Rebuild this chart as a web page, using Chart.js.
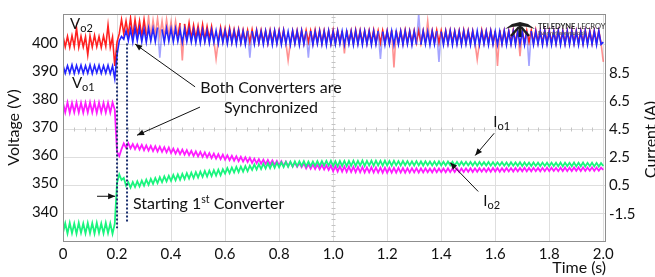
<!DOCTYPE html>
<html>
<head>
<meta charset="utf-8">
<script src="https://cdn.jsdelivr.net/npm/chart.js@4/dist/chart.umd.min.js"></script>
<style>
html,body{margin:0;padding:0;background:#fff;}
canvas{display:block;}
</style>
</head>
<body>
<canvas id="c" width="655" height="277"></canvas>
<script>
// ---- data ----
const SAMPLE_PERIOD = 1 / 120; // s between samples
const xTicks = [0, 0.2, 0.4, 0.6, 0.8, 1.0, 1.2, 1.4, 1.6, 1.8, 2.0];
const voltageTicks = [340, 350, 360, 370, 380, 390, 400];
const currentTicks = [-1.5, 0.5, 2.5, 4.5, 6.5, 8.5];

// Vo2 (red), V
const vo2 = [
403.2,399.3,403.0,399.1,403.3,399.4,406.0,399.2,403.1,399.3,402.9,396.5,
403.2,399.2,403.4,399.4,403.0,399.1,403.2,399.5,407.0,399.2,402.8,392.5,
401.0,404.0,409.0,404.0,408.5,403.5,409.5,403.0,409.0,403.5,408.5,403.0,
409.0,403.2,410.0,402.8,408.8,403.5,409.4,403.0,408.5,402.6,409.0,403.2,
408.2,402.8,408.5,403.0,407.8,394.5,407.5,402.7,407.8,402.2,407.0,402.4,
406.8,402.0,407.2,401.8,406.5,402.2,406.6,401.6,395.0,401.5,406.2,401.5,
405.8,401.4,406.0,401.2,405.5,401.5,405.6,401.0,405.3,401.2,405.2,400.9,
405.4,401.0,405.3,400.8,405.2,401.2,405.0,400.6,405.2,401.0,405.1,400.8,
405.2,400.9,405.3,400.7,394.5,400.8,405.0,400.8,405.1,401.0,405.2,400.7,
405.1,401.0,405.0,400.6,405.3,400.9,405.2,400.7,405.1,401.0,405.0,400.6,
405.2,400.8,405.1,401.0,405.0,397.0,405.2,400.9,405.0,400.6,405.3,400.8,
405.2,400.9,405.0,400.7,405.1,401.0,405.3,400.8,405.0,400.6,405.1,400.9,
405.0,400.7,405.2,392.0,405.1,400.8,405.0,400.6,405.3,400.9,405.0,400.7,
405.1,400.8,405.2,400.6,405.0,400.9,408.5,400.7,405.1,401.0,405.2,400.6,
405.0,400.9,405.1,400.7,405.2,401.0,405.0,400.8,405.1,400.6,405.3,400.9,
405.1,400.7,405.0,400.9,394.8,400.8,405.2,400.8,405.0,401.0,405.1,400.7,
405.0,392.5,405.2,400.6,405.1,400.9,405.0,400.7,405.3,401.0,405.1,396.0,
405.2,400.6,405.0,400.9,405.1,400.7,405.3,400.9,405.0,400.6,405.2,400.8,
405.1,401.0,405.0,400.7,405.2,400.8,405.1,400.6,405.0,400.9,405.2,400.7,
405.0,400.8,405.1,400.6,405.2,400.9,405.0,400.7,405.1,400.8,405.0,400.6,
394.0];

// Vo1 (blue), V
const vo1 = [
392.8,389.9,392.6,390.0,392.9,389.8,392.7,390.1,392.8,389.9,392.6,390.0,
392.9,389.8,392.7,390.1,392.8,389.9,392.6,390.0,392.8,389.8,392.5,388.0,
396.5,401.5,403.0,402.0,405.0,401.5,405.5,401.0,406.0,401.5,405.8,401.2,
405.6,401.0,406.0,401.4,405.8,401.2,406.2,395.5,405.5,401.0,405.9,401.3,
405.7,401.1,405.8,401.3,405.4,400.9,405.6,401.2,405.5,401.0,405.3,400.8,
405.2,400.7,405.4,401.0,405.0,400.6,405.3,400.9,405.1,400.5,405.2,400.8,
405.0,400.4,405.2,400.7,404.9,400.3,405.1,400.6,404.8,400.2,405.0,395.5,
404.9,400.3,405.0,400.6,404.7,400.2,404.9,400.5,404.8,400.1,405.0,400.4,
404.8,400.2,405.1,400.5,404.7,400.1,404.9,400.4,404.8,400.0,405.0,400.3,
404.8,395.5,404.9,400.1,404.7,400.4,404.9,400.2,404.8,400.0,405.0,400.3,
404.7,400.2,404.9,400.4,404.8,400.1,404.8,400.3,404.7,400.0,404.9,400.2,
404.8,400.1,404.9,400.3,404.7,400.0,404.8,400.2,404.9,395.0,404.7,400.1,
404.8,400.3,404.9,400.0,404.7,400.2,404.8,400.1,404.9,400.3,404.7,400.0,
404.8,400.2,411.0,400.1,404.9,400.3,404.7,400.0,404.8,400.2,404.9,394.0,
404.7,400.1,404.8,400.3,404.9,400.0,404.7,400.2,404.8,400.1,404.9,400.3,
404.7,400.0,404.8,400.2,404.9,400.1,404.7,400.3,404.8,400.0,404.9,400.2,
404.7,400.1,404.8,400.3,404.9,400.0,404.7,400.2,404.8,400.1,404.9,400.3,
404.7,400.0,404.8,392.5,404.9,400.1,404.7,400.3,404.8,400.0,404.9,400.2,
404.7,400.1,404.8,400.3,404.9,400.0,404.7,400.2,404.8,400.1,404.9,400.3,
404.7,400.0,404.8,400.2,404.9,400.1,404.7,400.3,404.8,400.0,404.9,400.2,
401.0];

// Io2 (magenta), A
const io2 = [
6.40,5.70,6.42,5.68,6.38,5.72,6.41,5.70,6.40,5.69,6.39,5.71,
6.42,5.70,6.40,5.68,6.41,5.72,6.38,5.70,6.40,5.69,6.41,5.90,
2.90,2.60,3.10,3.50,3.20,3.52,3.15,3.46,3.10,3.43,3.07,3.40,
3.02,3.36,2.99,3.33,2.96,3.30,2.93,3.27,2.90,3.24,2.87,3.21,
2.82,3.14,2.78,3.10,2.74,3.06,2.70,3.02,2.66,2.98,2.62,2.94,
2.58,2.90,2.54,2.86,2.50,2.82,2.46,2.78,2.42,2.74,2.38,2.70,
2.34,2.66,2.31,2.62,2.27,2.59,2.24,2.55,2.21,2.52,2.18,2.48,
2.12,2.42,2.09,2.38,2.06,2.35,2.03,2.32,2.00,2.29,1.97,2.26,
1.93,2.23,1.91,2.20,1.88,2.17,1.86,2.14,1.83,2.11,1.81,2.08,
1.72,2.04,1.70,2.01,1.68,1.99,1.66,1.97,1.64,1.95,1.62,1.93,
1.52,1.90,1.50,1.88,1.49,1.86,1.48,1.85,1.47,1.84,1.46,1.83,
1.45,1.82,1.44,1.80,1.44,1.80,1.43,1.79,1.43,1.78,1.42,1.78,
1.42,1.77,1.43,1.76,1.42,1.76,1.43,1.75,1.42,1.74,1.43,1.74,
1.44,1.74,1.43,1.73,1.44,1.73,1.45,1.72,1.44,1.73,1.45,1.72,
1.46,1.72,1.45,1.73,1.46,1.72,1.47,1.73,1.46,1.72,1.47,1.73,
1.48,1.74,1.47,1.73,1.48,1.74,1.49,1.73,1.48,1.74,1.49,1.75,
1.50,1.75,1.49,1.74,1.50,1.76,1.51,1.75,1.50,1.76,1.51,1.76,
1.52,1.77,1.51,1.76,1.52,1.77,1.53,1.76,1.52,1.77,1.53,1.78,
1.53,1.78,1.54,1.77,1.53,1.78,1.54,1.79,1.53,1.78,1.54,1.79,
1.55,1.79,1.54,1.80,1.55,1.79,1.56,1.80,1.55,1.79,1.56,1.78,
1.62];

// Io1 (green), A
const io1 = [
-2.85,-2.18,-2.90,-2.14,-2.88,-2.20,-2.92,-2.15,-2.86,-2.19,-2.90,-2.16,
-2.89,-2.17,-2.91,-2.14,-2.87,-2.20,-2.90,-2.15,-2.88,-2.18,-2.92,-2.20,
0.70,1.30,0.90,1.05,0.50,0.75,0.36,0.76,0.40,0.80,0.44,0.86,
0.50,0.92,0.56,0.98,0.62,1.04,0.68,1.10,0.74,1.16,0.80,1.20,
0.84,1.26,0.88,1.30,0.92,1.34,0.96,1.38,1.00,1.42,1.04,1.46,
1.08,1.50,1.12,1.54,1.15,1.57,1.18,1.60,1.21,1.63,1.24,1.66,
1.35,1.75,1.39,1.79,1.43,1.83,1.46,1.86,1.49,1.89,1.52,1.92,
1.62,2.00,1.65,2.03,1.68,2.06,1.71,2.09,1.74,2.11,1.76,2.13,
1.80,2.16,1.82,2.18,1.84,2.20,1.86,2.22,1.88,2.23,1.90,2.24,
1.87,2.21,1.88,2.22,1.90,2.24,1.91,2.25,1.92,2.26,1.93,2.27,
1.88,2.24,1.87,2.25,1.90,2.26,1.89,2.25,1.91,2.27,1.90,2.26,
1.92,2.28,1.90,2.26,1.93,2.27,1.91,2.28,1.94,2.26,1.92,2.27,
1.93,2.25,1.92,2.26,1.94,2.24,1.93,2.25,1.95,2.24,1.94,2.23,
1.93,2.24,1.94,2.22,1.93,2.23,1.95,2.22,1.94,2.21,1.93,2.22,
1.94,2.20,1.93,2.21,1.95,2.20,1.94,2.19,1.93,2.20,1.95,2.19,
1.94,2.18,1.93,2.19,1.92,2.18,1.94,2.17,1.93,2.18,1.92,2.17,
1.91,2.16,1.93,2.17,1.92,2.15,1.90,2.16,1.92,2.15,1.91,2.16,
1.90,2.15,1.91,2.14,1.89,2.15,1.90,2.13,1.89,2.14,1.90,2.13,
1.88,2.14,1.89,2.13,1.88,2.14,1.87,2.13,1.89,2.12,1.88,2.14,
1.87,2.13,1.88,2.14,1.86,2.12,1.88,2.13,1.87,2.12,1.86,2.10,
1.90];

// dotted timing markers (start of converter 1, synchronization)
const markerTimes = [0.200, 0.237];
const markerTop = [398.0, 400.5];
const markerBottom = [334.8, 336.5];

// ---- build library tables ----
const toPoints = arr => arr.map((v, i) => ({x: i * SAMPLE_PERIOD, y: v}));
const FONT = 'Lato';
const TXT = '#111';

// glitches after synchronization are drawn fainter (scope persistence look)
const isGlitch = p => p.parsed.x > 0.3 && (p.parsed.y < 398.5 || p.parsed.y > 407.8);
const faint = col => c => (isGlitch(c.p0) || isGlitch(c.p1)) ? col : undefined;

const markerSets = markerTimes.map((t, k) => ({
  data: [{x: t, y: markerTop[k]}, {x: t, y: markerBottom[k]}],
  yAxisID: 'y', borderColor: '#1b2f6e', borderWidth: 2, borderDash: [2, 2]
}));

function arrow(ctx, x1, y1, x2, y2) {
  ctx.beginPath(); ctx.moveTo(x1, y1); ctx.lineTo(x2, y2); ctx.stroke();
  const ang = Math.atan2(y2 - y1, x2 - x1), L = 7, W = 3;
  ctx.beginPath();
  ctx.moveTo(x2, y2);
  ctx.lineTo(x2 - L * Math.cos(ang) + W * Math.sin(ang), y2 - L * Math.sin(ang) - W * Math.cos(ang));
  ctx.lineTo(x2 - L * Math.cos(ang) - W * Math.sin(ang), y2 - L * Math.sin(ang) + W * Math.cos(ang));
  ctx.closePath(); ctx.fill();
}
function rich(ctx, parts, x, y, align) {
  let w = 0;
  parts.forEach(p => { ctx.font = (p[3] || '') + ' ' + p[1] + 'px ' + FONT; w += ctx.measureText(p[0]).width; });
  let cx = align === 'center' ? x - w / 2 : x;
  parts.forEach(p => {
    ctx.font = (p[3] || '') + ' ' + p[1] + 'px ' + FONT;
    ctx.fillText(p[0], cx, y + (p[2] || 0));
    cx += ctx.measureText(p[0]).width;
  });
}

const notes = [
  {parts: [['V', 15], ['o2', 11, 3]], t: 0.026, v: 405.5},
  {parts: [['V', 15], ['o1', 11, 3]], t: 0.033, v: 384.8},
  {parts: [['Both Converters are', 16]], t: 0.77, v: 382.9, align: 'center'},
  {parts: [['Synchronized', 16]], t: 0.77, v: 375.7, align: 'center'},
  {parts: [['Starting 1', 16], ['st', 10.5, -6], [' Converter', 16]], t: 0.259, v: 341.7},
  {parts: [['I', 15], ['o1', 11, 3]], t: 1.593, v: 371.0},
  {parts: [['I', 15], ['o2', 11, 3]], t: 1.556, v: 342.7}
];
const arrows = [
  [0.489, 385.1, 0.267, 400.3],
  [0.507, 377.9, 0.274, 367.9],
  [0.126, 346.2, 0.193, 346.2],
  [1.596, 368.6, 1.526, 360.7],
  [1.537, 347.9, 1.433, 358.2]
];

const decor = {
  id: 'decor',
  beforeDatasetsDraw(chart) {
    const {ctx, chartArea: a, scales: {x, y}} = chart;
    ctx.save();
    // graticule minor ticks on centre lines
    ctx.strokeStyle = '#c4c4c4'; ctx.lineWidth = 1;
    const yc = Math.round(y.getPixelForValue(370)) + 0.5;
    const xc = Math.round(x.getPixelForValue(1.0)) + 0.5;
    ctx.beginPath();
    for (let t = 0.04; t < 2.0; t += 0.04) {
      const px = Math.round(x.getPixelForValue(t)) + 0.5;
      ctx.moveTo(px, yc - 2); ctx.lineTo(px, yc + 2);
    }
    for (let v = 332; v < 411; v += 2) {
      const py = Math.round(y.getPixelForValue(v)) + 0.5;
      ctx.moveTo(xc - 2, py); ctx.lineTo(xc + 2, py);
    }
    ctx.stroke();
    ctx.restore();
  },
  afterDatasetsDraw(chart) {
    const {ctx, chartArea: a, scales: {x, y}} = chart;
    ctx.save();
    // plot frame
    ctx.strokeStyle = '#8f8f8f'; ctx.lineWidth = 1;
    ctx.strokeRect(Math.round(a.left) + 0.5, Math.round(a.top) + 0.5, Math.round(a.width) - 1, Math.round(a.height));
    // logo
    const lx = a.right, ly = a.top + 1;
    ctx.fillStyle = '#1e1e1e'; ctx.strokeStyle = '#1e1e1e';
    ctx.beginPath();
    ctx.moveTo(lx - 101, ly + 14); ctx.lineTo(lx - 94, ly + 9); ctx.lineTo(lx - 86, ly + 7);
    ctx.lineTo(lx - 78, ly + 9); ctx.lineTo(lx - 71, ly + 14); ctx.lineTo(lx - 78, ly + 12);
    ctx.lineTo(lx - 86, ly + 11); ctx.lineTo(lx - 94, ly + 12); ctx.closePath(); ctx.fill();
    ctx.fillRect(lx - 87.5, ly + 10, 3, 12);
    ctx.lineWidth = 2.5;
    ctx.beginPath(); ctx.moveTo(lx - 87, ly + 12); ctx.lineTo(lx - 95, ly + 21);
    ctx.moveTo(lx - 85, ly + 12); ctx.lineTo(lx - 77, ly + 21); ctx.stroke();
    ctx.textBaseline = 'alphabetic'; ctx.textAlign = 'left';
    rich(ctx, [['TELEDYNE', 7.5, 0, 'bold'], [' LECROY', 7.5, 0, '']], lx - 68, ly + 14);
    ctx.fillStyle = '#555';
    rich(ctx, [['Everywhere', 5.5], ['you', 5.5, 0, 'bold'], ['look', 5.5]], lx - 68, ly + 20);
    // annotations
    ctx.fillStyle = TXT; ctx.strokeStyle = '#111'; ctx.lineWidth = 1;
    notes.forEach(n => rich(ctx, n.parts, x.getPixelForValue(n.t), y.getPixelForValue(n.v), n.align));
    arrows.forEach(r => arrow(ctx, x.getPixelForValue(r[0]), y.getPixelForValue(r[1]), x.getPixelForValue(r[2]), y.getPixelForValue(r[3])));
    // right axis title (reads bottom to top)
    ctx.font = '16px ' + FONT; ctx.textAlign = 'center'; ctx.textBaseline = 'middle';
    ctx.translate(651, (a.top + a.bottom) / 2 + 12);
    ctx.rotate(-Math.PI / 2);
    ctx.fillText('Current (A)', 0, 0);
    ctx.restore();
  }
};

new Chart(document.getElementById('c'), {
  type: 'line',
  data: {
    datasets: [
      ...markerSets,
      {label: 'Vo1', data: toPoints(vo1), yAxisID: 'y', borderColor: '#2424ff', borderWidth: 1.6,
        segment: {borderColor: faint('rgba(90,90,255,0.55)')}},
      {label: 'Vo2', data: toPoints(vo2), yAxisID: 'y', borderColor: '#ff2020', borderWidth: 1.6,
        segment: {borderColor: faint('rgba(255,70,70,0.6)')}},
      {label: 'Io1', data: toPoints(io1), yAxisID: 'y1', borderColor: '#19f57d', borderWidth: 1.8},
      {label: 'Io2', data: toPoints(io2), yAxisID: 'y1', borderColor: '#ff1cff', borderWidth: 1.8}
    ]
  },
  options: {
    responsive: false, animation: false,
    layout: {padding: {top: 7, left: 0, right: 0, bottom: 0}},
    plugins: {legend: {display: false}, tooltip: {enabled: false}},
    elements: {point: {radius: 0}, line: {tension: 0, fill: false}},
    scales: {
      x: {
        type: 'linear', min: 0, max: 2.01,
        afterBuildTicks: s => { s.ticks = xTicks.map(v => ({value: v})); },
        afterFit: s => { s.height = 36; },
        grid: {color: '#dedede', drawTicks: false},
        border: {display: false},
        ticks: {padding: 4, color: TXT, font: {family: FONT, size: 15},
          callback: v => v === 0 ? '0' : Number(v).toFixed(1)},
        title: {display: true, text: 'Time (s)', align: 'end', color: TXT,
          font: {family: FONT, size: 16}, padding: {top: -2, bottom: 0}}
      },
      y: {
        position: 'left', min: 330.3, max: 411,
        afterBuildTicks: s => { s.ticks = voltageTicks.map(v => ({value: v})); },
        afterFit: s => { s.width = 63; },
        grid: {color: '#dedede', drawTicks: false},
        border: {display: false},
        ticks: {padding: 5, labelOffset: -2, color: TXT, font: {family: FONT, size: 15}},
        title: {display: true, text: 'Voltage (V)', color: TXT,
          font: {family: FONT, size: 16}, padding: {top: 4, bottom: 0}}
      },
      y1: {
        position: 'right', min: -3.44, max: 12.71,
        afterBuildTicks: s => { s.ticks = currentTicks.map(v => ({value: v})); },
        afterFit: s => { s.width = 49; },
        grid: {drawOnChartArea: false, drawTicks: false},
        border: {display: false},
        ticks: {padding: 3, color: TXT, font: {family: FONT, size: 15},
          callback: v => Number(v).toFixed(1)}
      }
    }
  },
  plugins: [decor]
});
</script>
</body>
</html>
